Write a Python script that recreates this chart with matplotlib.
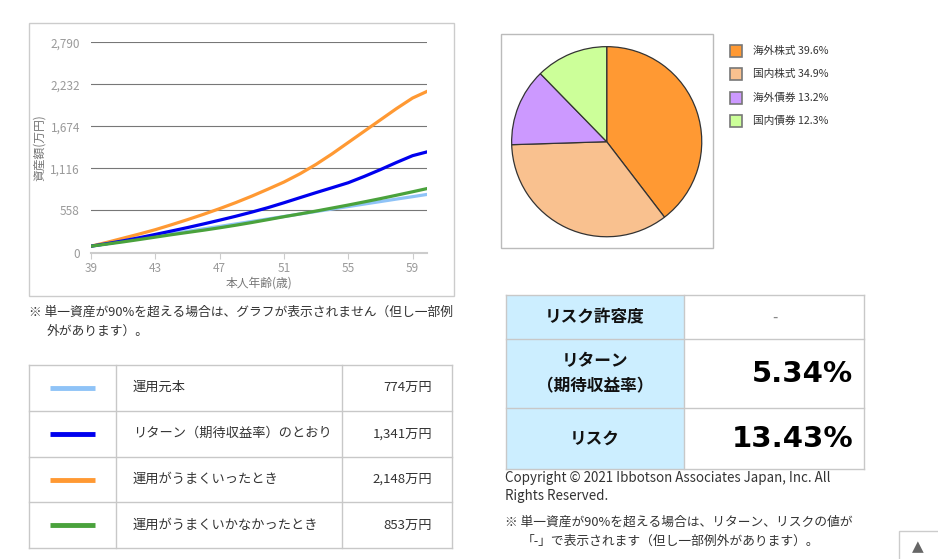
import numpy as np
import matplotlib
matplotlib.use("Agg")
from matplotlib import pyplot as plt
from matplotlib.patches import Rectangle

plt.rcParams['font.family'] = ['Noto Sans CJK JP', 'DejaVu Sans']

# data
ages = np.arange(39, 61)
principal = [84, 117, 150, 183, 215, 248, 281, 314, 346, 379, 412, 445,
             478, 511, 544, 577, 610, 643, 676, 709, 741, 774]
expected = [84, 118, 155, 196, 240, 285, 331, 379, 429, 481, 536, 595,
            660, 728, 795, 860, 926, 1010, 1100, 1195, 1285, 1341]
good = [84, 135, 190, 245, 303, 368, 436, 507, 582, 662, 748, 840,
        935, 1045, 1170, 1310, 1460, 1610, 1760, 1910, 2050, 2148]
bad = [84, 112, 141, 172, 204, 236, 266, 296, 328, 362, 398, 436,
       475, 512, 550, 590, 630, 672, 715, 760, 806, 853]
y_ticks = [0, 558, 1116, 1674, 2232, 2790]
x_ticks = [39, 43, 47, 51, 55, 59]

series_names = ["運用元本", "リターン（期待収益率）のとおり", "運用がうまくいったとき", "運用がうまくいかなかったとき"]
series_colors = ["#8fc3f7", "#0000ee", "#ff9933", "#4aa23c"]
final_values = ["774万円", "1,341万円", "2,148万円", "853万円"]

pie_labels = ["海外株式", "国内株式", "海外債券", "国内債券"]
pie_values = [39.6, 34.9, 13.2, 12.3]
pie_colors = ["#ff9933", "#f9c18f", "#cc99ff", "#ccff99"]

risk_labels = ["リスク許容度", "リターン\n（期待収益率）", "リスク"]
risk_values = ["-", "5.34%", "13.43%"]

W, H = 938, 559
fig = plt.figure(figsize=(W / 100, H / 100), dpi=100)

def px_axes(x0, y0, x1, y1):
    return fig.add_axes([x0 / W, 1 - y1 / H, (x1 - x0) / W, (y1 - y0) / H])

# overlay for frames, tables and notes
bg = fig.add_axes([0, 0, 1, 1])
bg.set_xlim(0, W)
bg.set_ylim(H, 0)
bg.axis("off")

txt = "#333333"
fs = 9.2

# line chart frame
bg.add_patch(Rectangle((29, 23), 425, 273, fill=False, ec="#cccccc", lw=1))
ax = px_axes(91, 42.3, 427, 252.5)
for vals, c in zip([principal, good, expected, bad], [series_colors[0], series_colors[2], series_colors[1], series_colors[3]]):
    ax.plot(ages, vals, color=c, lw=2.3, solid_capstyle="round")
ax.set_xlim(39, 59.9)
ax.set_ylim(0, 2790)
ax.set_yticks(y_ticks)
ax.set_yticklabels([f"{v:,}" for v in y_ticks])
ax.set_xticks(x_ticks)
ax.grid(axis="y", color="#777777", lw=0.8)
ax.set_axisbelow(True)
for s in ["top", "right", "left"]:
    ax.spines[s].set_visible(False)
ax.spines["bottom"].set_color("#cccccc")
ax.spines["bottom"].set_linewidth(1.5)
ax.tick_params(axis="y", length=0, labelsize=8.5, labelcolor="#9a9a9a", pad=8)
ax.tick_params(axis="x", length=4, color="#cccccc", labelsize=8.5, labelcolor="#9a9a9a", pad=3)
ax.set_xlabel("本人年齢(歳)", fontsize=8.5, color="#777777", labelpad=1)
ax.set_ylabel("資産額(万円)", fontsize=8.5, color="#777777", labelpad=3)

# note under line chart
bg.text(29, 312, "※ 単一資産が90%を超える場合は、グラフが表示されません（但し一部例", fontsize=fs, color=txt, va="center")
bg.text(47, 331, "外があります）。", fontsize=fs, color=txt, va="center")

# legend table
rows = [364.7, 410.7, 456.7, 502.3, 548.3]
cols = [29, 115.7, 342, 452]
for r in rows:
    bg.plot([cols[0], cols[-1]], [r, r], color="#c8c8c8", lw=1)
for c in cols:
    bg.plot([c, c], [rows[0], rows[-1]], color="#c8c8c8", lw=1)
for i, (name, col, val) in enumerate(zip(series_names, series_colors, final_values)):
    yc = (rows[i] + rows[i + 1]) / 2
    bg.plot([50, 95], [yc, yc], color=col, lw=3.5, solid_capstyle="butt")
    bg.text(133, yc, name, fontsize=9.5, color=txt, va="center")
    bg.text(432, yc, val, fontsize=9.5, color=txt, va="center", ha="right")

# pie chart
bg.add_patch(Rectangle((500.7, 34.3), 212.3, 213.7, fill=False, ec="#bbbbbb", lw=1))
pr = 96
pax = px_axes(606.7 - pr, 141.7 - pr, 606.7 + pr, 141.7 + pr)
pax.pie(pie_values, colors=pie_colors, startangle=90, counterclock=False,
        wedgeprops=dict(edgecolor="#333333", linewidth=0.9))
pax.set_xlim(-1.01, 1.01)
pax.set_ylim(-1.01, 1.01)
pax.set_aspect("equal")
for i, (lab, v, c) in enumerate(zip(pie_labels, pie_values, pie_colors)):
    yc = [50.7, 74.3, 97.7, 121][i]
    bg.add_patch(Rectangle((730, yc - 6), 12, 12, fc=c, ec="#777777", lw=1.2))
    bg.text(753, yc, f"{lab} {v}%", fontsize=7.7, color=txt, va="center")

# risk table
rx = [505.7, 684.3, 864.3]
ry = [295.3, 339.3, 408.3, 469]
for i in range(3):
    bg.add_patch(Rectangle((rx[0], ry[i]), rx[1] - rx[0], ry[i + 1] - ry[i], fc="#cceeff", ec="none"))
for r in ry:
    bg.plot([rx[0], rx[-1]], [r, r], color="#c8c8c8", lw=1)
for c in rx:
    bg.plot([c, c], [ry[0], ry[-1]], color="#c8c8c8", lw=1)
for i, (lab, val) in enumerate(zip(risk_labels, risk_values)):
    yc = (ry[i] + ry[i + 1]) / 2
    bg.text(595, yc, lab, fontsize=12, fontweight="bold", color="#111111",
            va="center", ha="center", linespacing=1.5)
    if val == "-":
        bg.text(775, yc, val, fontsize=11, color="#888888", va="center", ha="center")
    else:
        bg.text(853, yc, val, fontsize=21, fontweight="bold", color="#000000",
                va="center", ha="right", family=["DejaVu Sans"])

bg.text(505, 478, "Copyright © 2021 Ibbotson Associates Japan, Inc. All", fontsize=9.6, color=txt, va="center")
bg.text(505, 496, "Rights Reserved.", fontsize=9.6, color=txt, va="center")
bg.text(505, 522, "※ 単一資産が90%を超える場合は、リターン、リスクの値が", fontsize=fs, color=txt, va="center")
bg.text(522, 541, "「-」で表示されます（但し一部例外があります）。", fontsize=fs, color=txt, va="center")

# page-top button
bg.add_patch(Rectangle((899, 531), 45, 40, fc="white", ec="#cccccc", lw=1))
bg.text(918, 547, "▲", fontsize=11, color="#666666", ha="center", va="center", family=["DejaVu Sans"])

fig.savefig("out.png", dpi=100)
